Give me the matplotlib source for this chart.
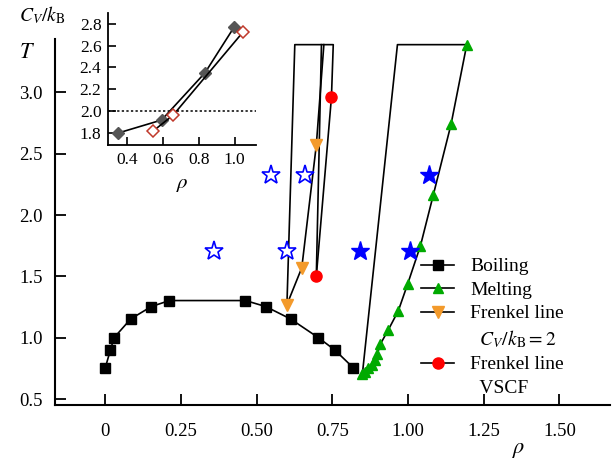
import matplotlib
matplotlib.use("Agg")
import matplotlib.pyplot as plt
from matplotlib.lines import Line2D

plt.rcParams['font.family'] = ['Liberation Serif', 'DejaVu Serif']
plt.rcParams['mathtext.fontset'] = 'stix'

# boiling curve
boil_rho = [0.0, 0.017, 0.029, 0.084, 0.152, 0.212, 0.463, 0.530, 0.612, 0.704, 0.758, 0.819]
boil_T = [0.755, 0.90, 1.00, 1.153, 1.254, 1.303, 1.303, 1.254, 1.153, 1.00, 0.90, 0.755]

# melting curve
melt_rho = [0.849, 0.858, 0.869, 0.880, 0.891, 0.899, 0.909, 0.934, 0.968, 0.999, 1.041, 1.083, 1.142, 1.194]
melt_T = [0.70, 0.72, 0.75, 0.78, 0.82, 0.87, 0.95, 1.06, 1.22, 1.44, 1.75, 2.16, 2.74, 3.39]

# Frenkel line, C_V/k_B = 2
fc_rho = [0.600, 0.649, 0.697]
fc_T = [1.27, 1.57, 2.57]

# Frenkel line, VSCF
fv_rho = [0.697, 0.747]
fv_T = [1.50, 2.96]

# outline segments (no markers)
seg_left_rho = [0.600, 0.626, 0.753, 0.747]
seg_left_T = [1.27, 3.39, 3.39, 2.96]
seg_fc_rho = [0.697, 0.722]
seg_fc_T = [2.57, 3.39]
seg_fv_rho = [0.697, 0.714]
seg_fv_T = [1.50, 3.39]
seg_right_rho = [0.849, 0.965, 1.194]
seg_right_T = [0.70, 3.39, 3.39]

# stars
open_rho = [0.36, 0.60, 0.547, 0.661]
open_T = [1.71, 1.71, 2.33, 2.33]
fill_rho = [0.842, 1.005, 1.069]
fill_T = [1.71, 1.71, 2.33]

# inset: C_V/k_B vs rho
ins_rho_a = [0.35, 0.594, 0.835, 0.996]
ins_cv_a = [1.795, 1.916, 2.351, 2.77]
ins_rho_b = [0.548, 0.659, 1.046]
ins_cv_b = [1.816, 1.963, 2.726]

fig = plt.figure(figsize=(6.12, 4.59), dpi=100)
ax = fig.add_axes([0.0899, 0.1176, 0.9068, 0.7974])

lw = 1.2
ax.plot(seg_left_rho, seg_left_T, color='k', lw=lw)
ax.plot(seg_fc_rho, seg_fc_T, color='k', lw=lw)
ax.plot(seg_fv_rho, seg_fv_T, color='k', lw=lw)
ax.plot(seg_right_rho, seg_right_T, color='k', lw=lw)

ax.plot(boil_rho, boil_T, color='k', lw=lw, marker='s', ms=6.5, mfc='k', mec='k', zorder=3)
ax.plot(melt_rho, melt_T, color='k', lw=lw, marker='^', ms=7.5, mfc='#00aa00', mec='#00aa00', zorder=3)
ax.plot(fc_rho, fc_T, color='k', lw=lw, marker='v', ms=8.5, mfc='#f39a2b', mec='#f39a2b', zorder=3)
ax.plot(fv_rho, fv_T, color='k', lw=lw, marker='o', ms=8, mfc='#ff0000', mec='#ff0000', zorder=3)

ax.plot(open_rho, open_T, ls='none', marker='*', ms=14, mfc='white', mec='#0000ff', mew=1.2, zorder=4)
ax.plot(fill_rho, fill_T, ls='none', marker='*', ms=14, mfc='#0000ff', mec='#0000ff', zorder=4)

ax.set_xlim(-0.166, 1.667)
ax.set_ylim(0.451, 3.436)
ax.set_xticks([0, 0.25, 0.5, 0.75, 1.0, 1.25, 1.5])
ax.set_xticklabels(['0', '0.25', '0.50', '0.75', '1.00', '1.25', '1.50'])
ax.set_yticks([0.5, 1.0, 1.5, 2.0, 2.5, 3.0])
ax.set_yticklabels(['0.5', '1.0', '1.5', '2.0', '2.5', '3.0'])
ax.tick_params(direction='in', length=8, width=1.3, labelsize=13.5)
ax.tick_params(axis='x', pad=13)
ax.tick_params(axis='y', pad=9)
for s in ['top', 'right']:
    ax.spines[s].set_visible(False)
for s in ['left', 'bottom']:
    ax.spines[s].set_linewidth(1.5)

blank = Line2D([], [], ls='none')
handles = [
    Line2D([], [], color='k', lw=lw, marker='s', ms=6.5, mfc='k', mec='k'),
    Line2D([], [], color='k', lw=lw, marker='^', ms=7.5, mfc='#00aa00', mec='#00aa00'),
    Line2D([], [], color='k', lw=lw, marker='v', ms=8.5, mfc='#f39a2b', mec='#f39a2b'),
    blank,
    Line2D([], [], color='k', lw=lw, marker='o', ms=8, mfc='#ff0000', mec='#ff0000'),
    blank,
]
labels = ['Boiling', 'Melting', 'Frenkel line', r'  $C_V/k_\mathrm{B} = 2$', 'Frenkel line', '  VSCF']
ax.legend(handles, labels, loc='upper left', bbox_to_anchor=(0.66, 0.402), frameon=False,
          fontsize=14, handlelength=1.7, handletextpad=0.8, labelspacing=0.3, borderpad=0,
          borderaxespad=0)

fig.text(27 / 612, 1 - 54 / 459, '$T$', fontsize=16, ha='center', va='center')
fig.text(519 / 612, 1 - 450 / 459, r'$\rho$', fontsize=16, ha='center', va='center')

# inset
ins = fig.add_axes([0.177, 0.6848, 0.2413, 0.2876])
ins.axhline(2.0, color='k', lw=1.1, ls=(0, (1.5, 1.5)))
ins.plot(ins_rho_a, ins_cv_a, color='k', lw=lw, marker='D', ms=6.5, mfc='#555555', mec='#555555')
ins.plot(ins_rho_b, ins_cv_b, color='k', lw=lw, marker='D', ms=6.5, mfc='white', mec='#c0392b', mew=1.1)
ins.set_xlim(0.298, 1.118)
ins.set_ylim(1.689, 2.904)
ins.set_xticks([0.4, 0.6, 0.8, 1.0])
ins.set_xticklabels(['0.4', '0.6', '0.8', '1.0'])
ins.set_yticks([1.8, 2.0, 2.2, 2.4, 2.6, 2.8])
ins.set_yticklabels(['1.8', '2.0', '2.2', '2.4', '2.6', '2.8'])
ins.tick_params(direction='in', length=6, width=1.2, labelsize=12.5, pad=5)
for s in ['top', 'right']:
    ins.spines[s].set_visible(False)
for s in ['left', 'bottom']:
    ins.spines[s].set_linewidth(1.3)

fig.text(42 / 612, 1 - 15 / 459, r'$C_V/k_\mathrm{B}$', fontsize=14, ha='center', va='center')
fig.text(182 / 612, 1 - 185 / 459, r'$\rho$', fontsize=15, ha='center', va='center')

fig.savefig('out.png', dpi=100)
